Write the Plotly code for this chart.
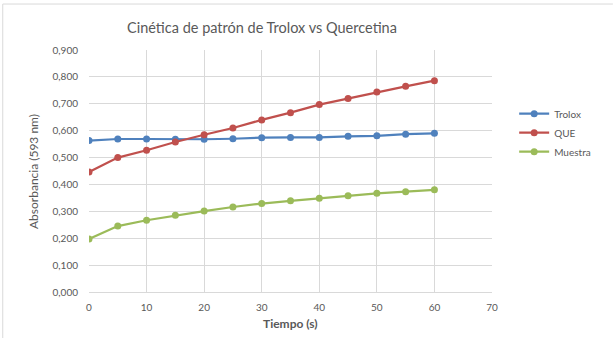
import plotly.graph_objects as go

# Kinetics data: time (s) vs absorbance at 593 nm
tiempo = [0, 5, 10, 15, 20, 25, 30, 35, 40, 45, 50, 55, 60]
trolox = [0.563, 0.569, 0.569, 0.568, 0.568, 0.570, 0.574, 0.575, 0.575, 0.579, 0.581, 0.587, 0.590]
que = [0.446, 0.500, 0.527, 0.558, 0.585, 0.610, 0.640, 0.667, 0.697, 0.720, 0.744, 0.765, 0.786]
muestra = [0.197, 0.245, 0.267, 0.285, 0.301, 0.316, 0.329, 0.339, 0.349, 0.358, 0.367, 0.373, 0.380]

series = [
    ("Trolox", trolox, "#4F81BD"),
    ("QUE", que, "#C0504D"),
    ("Muestra", muestra, "#9BBB59"),
]

FONT = "Lato, 'Open Sans', sans-serif"
GRID = "#d9d9d9"
TXT = "#595959"

fig = go.Figure()
for name, vals, color in series:
    fig.add_trace(go.Scatter(
        x=tiempo, y=vals, name=name, mode="lines+markers",
        line=dict(color=color, width=2.2),
        marker=dict(color=color, size=7),
    ))

fig.update_layout(
    width=614, height=338,
    margin=dict(l=89, r=122, t=50, b=46),
    paper_bgcolor="white", plot_bgcolor="white",
    separators=",.",
    font=dict(family=FONT, color=TXT, size=10),
    showlegend=True,
    legend=dict(
        x=1.055, y=0.797, xanchor="left", yanchor="top",
        font=dict(family=FONT, size=10, color=TXT),
        itemwidth=30, tracegroupgap=4, bgcolor="rgba(0,0,0,0)",
    ),
    xaxis=dict(
        range=[0, 70], dtick=10, tick0=0,
        showgrid=True, gridcolor=GRID, gridwidth=1,
        zeroline=False, showline=True, linecolor=GRID, linewidth=1,
        ticks="", ticklabelstandoff=6,
        tickfont=dict(size=10, color=TXT),
        fixedrange=True,
    ),
    yaxis=dict(
        range=[0, 0.9], dtick=0.1, tick0=0, tickformat=".3f",
        showgrid=True, gridcolor=GRID, gridwidth=1,
        zeroline=False, showline=False,
        ticks="", ticklabelstandoff=10,
        tickfont=dict(size=10, color=TXT),
        fixedrange=True,
    ),
    annotations=[
        dict(text="Cinética de patrón de Trolox vs Quercetina",
             xref="paper", yref="paper", x=0.43, y=1.095,
             xanchor="center", yanchor="middle", showarrow=False,
             font=dict(family=FONT, size=14.5, color=TXT)),
        dict(text="Absorbancia (593 nm)",
             xref="paper", yref="paper", x=-0.139, y=0.5,
             xanchor="center", yanchor="middle", textangle=-90,
             showarrow=False, font=dict(family=FONT, size=12, color=TXT)),
        dict(text="<b>Tiempo (s)</b>",
             xref="paper", yref="paper", x=0.5, y=-0.13,
             xanchor="center", yanchor="middle", showarrow=False,
             font=dict(family=FONT, size=12, color=TXT)),
    ],
    shapes=[
        dict(type="line", xref="paper", yref="paper",
             x0=-0.214, x1=1.30, y0=1.19, y1=1.19,
             line=dict(color="#d9d9d9", width=1)),
        dict(type="line", xref="paper", yref="paper",
             x0=-0.214, x1=-0.214, y0=1.19, y1=-0.2,
             line=dict(color="#d9d9d9", width=1)),
    ],
)

fig.write_html("out.html")
